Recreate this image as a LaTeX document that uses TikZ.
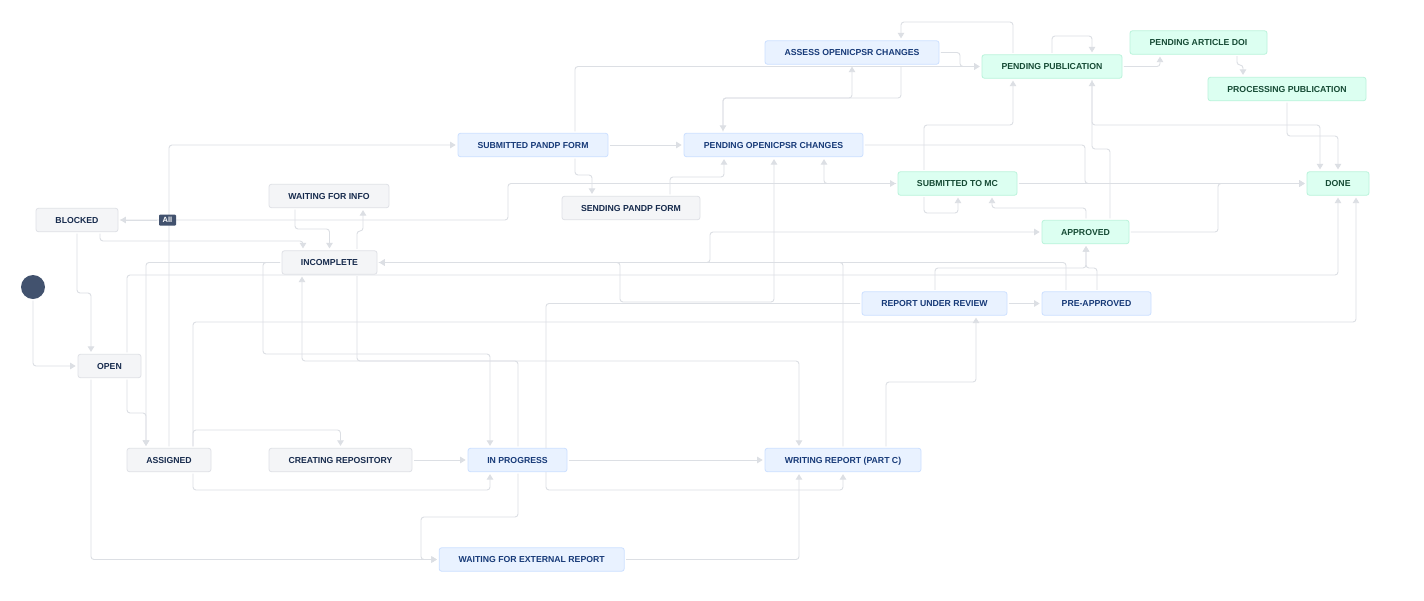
\documentclass[tikz,border=0pt]{standalone}
\usepackage{fontspec}
\setmainfont{Liberation Sans}
\usetikzlibrary{arrows.meta,backgrounds}
\definecolor{cgf}{HTML}{F4F5F7}
\definecolor{cgd}{HTML}{DFE1E6}
\definecolor{cgt}{HTML}{172B4D}
\definecolor{cbf}{HTML}{E9F2FF}
\definecolor{cbd}{HTML}{CCE0FF}
\definecolor{cbt}{HTML}{173A78}
\definecolor{cnf}{HTML}{DCFFF1}
\definecolor{cnd}{HTML}{BAF3DB}
\definecolor{cnt}{HTML}{164B35}
\definecolor{ce}{HTML}{DCDFE4}
\definecolor{cdark}{HTML}{42526E}
\tikzset{
  st/.style={rectangle, rounded corners=2.5pt, line width=0.8pt, inner sep=0pt,
    minimum height=23.5pt, text height=6.3pt, text depth=0pt,
    font=\bfseries\fontsize{8.7}{10}\selectfont},
  gst/.style={st, fill=cgf, draw=cgd, text=cgt},
  bst/.style={st, fill=cbf, draw=cbd, text=cbt},
  nst/.style={st, fill=cnf, draw=cnd, text=cnt},
  edge/.style={draw=ce, line width=0.9pt, rounded corners=3pt, shorten >=2pt, shorten <=1.5pt,
    -{Triangle[length=5.5pt,width=6.5pt]}}
}
\begin{document}
\begin{tikzpicture}[x=1pt,y=-1pt]
\useasboundingbox (0,0) rectangle (1424,600);

% nodes
\node[gst, minimum width=82pt] (blocked) at (77,220) {BLOCKED};
\node[gst, minimum width=120pt] (wfi) at (329,196) {WAITING FOR INFO};
\node[gst, minimum width=95pt] (incomplete) at (329.5,262.5) {INCOMPLETE};
\node[gst, minimum width=63pt] (open) at (109.5,366) {OPEN};
\node[gst, minimum width=84pt] (assigned) at (169,460) {ASSIGNED};
\node[gst, minimum width=143pt] (createrepo) at (340.5,460) {CREATING REPOSITORY};
\node[bst, minimum width=99pt] (inprog) at (517.5,460) {IN PROGRESS};
\node[bst, minimum width=185pt] (wext) at (531.7,559.5) {WAITING FOR EXTERNAL REPORT};
\node[bst, minimum width=156pt] (writing) at (843,460) {WRITING REPORT (PART C)};
\node[bst, minimum width=145pt] (rur) at (934.5,303.5) {REPORT UNDER REVIEW};
\node[bst, minimum width=109pt] (preapp) at (1096.5,303.5) {PRE-APPROVED};
\node[nst, minimum width=87pt] (approved) at (1085.5,232) {APPROVED};
\node[nst, minimum width=119pt] (submc) at (957.5,183.5) {SUBMITTED TO MC};
\node[nst, minimum width=62pt] (done) at (1338,183.5) {DONE};
\node[bst, minimum width=150pt] (subpandp) at (533,145) {SUBMITTED PANDP FORM};
\node[bst, minimum width=179pt] (pendopen) at (773.5,145) {PENDING OPENICPSR CHANGES};
\node[gst, minimum width=138pt] (sending) at (631,208) {SENDING PANDP FORM};
\node[bst, minimum width=174pt] (assess) at (852,52.5) {ASSESS OPENICPSR CHANGES};
\node[nst, minimum width=140pt] (pendpub) at (1052,66.5) {PENDING PUBLICATION};
\node[nst, minimum width=137pt] (doi) at (1198.5,42.5) {PENDING ARTICLE DOI};
\node[nst, minimum width=158pt] (procpub) at (1287,89) {PROCESSING PUBLICATION};
\node[circle, fill=cdark, minimum size=24pt, inner sep=0pt] (start) at (33,287) {};
\node[fill=cdark, text=white, rounded corners=1pt, inner sep=0pt, minimum width=17pt,
  minimum height=11pt, text height=5.6pt, text depth=0pt,
  font=\bfseries\fontsize{7.5}{8}\selectfont] (all) at (167.5,220) {All};

\begin{pgfonlayer}{background}
\fill[white] (0,0) rectangle (1424,600);
% start
\draw[edge] (start.south) |- (open.west);
% global
\draw[edge] (all.west) -- (blocked.east);
\draw[edge] (blocked.east) -- (508,0 |- blocked.east) -- (508,0 |- submc.west) -- (submc.west);
% blocked
\draw[edge] (100,0 |- blocked.south) -- (100,241) -- (303,241) -- (303,0 |- incomplete.north);
\draw[edge] (blocked.south) -- (77,293) -- (91,293) -- (91,0 |- open.north);
% waiting for info / incomplete
\draw[edge] (295,0 |- wfi.south) -- (295,229) -- (329.5,229) -- (incomplete.north);
\draw[edge] (357,0 |- incomplete.north) -- (357,231) -- (363,231) -- (363,0 |- wfi.south);
\draw[edge] (incomplete.west) -- (146,0 |- incomplete.west) -- (146,0 |- assigned.north);
\draw[edge] (incomplete.west) -- (263,0 |- incomplete.west) -- (263,354) -- (490,354) -- (490,0 |- inprog.north);
\draw[edge] (357,0 |- incomplete.south) -- (357,361) -- (799,361) -- (799,0 |- writing.north);
\draw[edge] (incomplete.east) -- (710,0 |- incomplete.east) -- (710,0 |- approved.west) -- (approved.west);
\draw[edge] (incomplete.east) -- (620,0 |- incomplete.east) -- (620,302) -- (774,302) -- (774,0 |- pendopen.south);
% open
\draw[edge] (127,0 |- open.north) -- (127,275) -- (1338,275) -- (done.south);
\draw[edge] (127,0 |- open.south) -- (127,413) -- (146,413) -- (146,0 |- assigned.north);
\draw[edge] (91,0 |- open.south) -- (91,0 |- wext.west) -- (wext.west);
% assigned
\draw[edge] (assigned.north) |- (subpandp.west);
\draw[edge] (193,0 |- assigned.north) -- (193,430) -- (340.5,430) -- (createrepo.north);
\draw[edge] (193,0 |- assigned.north) -- (193,322) -- (1356,322) -- (1356,0 |- done.south);
\draw[edge] (193,0 |- assigned.south) -- (193,490) -- (490,490) -- (490,0 |- inprog.south);
\draw[edge] (createrepo.east) -- (inprog.west);
% in progress
\draw[edge] (518,0 |- inprog.north) -- (518,361) -- (302,361) -- (302,0 |- incomplete.south);
\draw[edge] (518,0 |- inprog.south) -- (518,517) -- (421,517) -- (421,0 |- wext.west) -- (wext.west);
\draw[edge] (inprog.east) -- (writing.west);
\draw[edge] (wext.east) -- (799,0 |- wext.east) -- (799,0 |- writing.south);
% writing
\draw[edge] (843,0 |- writing.north) -- (843,0 |- incomplete.east) -- (incomplete.east);
\draw[edge] (886,0 |- writing.north) -- (886,382) -- (976,382) -- (976,0 |- rur.south);
% report under review
\draw[edge] (rur.west) -- (546,0 |- rur.west) -- (546,490) -- (843,490) -- (843,0 |- writing.south);
\draw[edge] (rur.east) -- (preapp.west);
\draw[edge] (935,0 |- rur.north) -- (935,268) -- (1086,268) -- (1086,0 |- approved.south);
\draw[edge] (1097,0 |- preapp.north) -- (1097,268) -- (1086,268) -- (1086,0 |- approved.south);
\draw[edge] (1066,0 |- preapp.north) -- (1066,0 |- incomplete.east) -- (incomplete.east);
% approved
\draw[edge] (1086,0 |- approved.north) -- (1086,208) -- (992,208) -- (992,0 |- submc.south);
\draw[edge] (approved.east) -- (1218,0 |- approved.east) -- (1218,0 |- done.west) -- (done.west);
\draw[edge] (1110,0 |- approved.north) -- (1110,149) -- (1092,149) -- (1092,0 |- pendpub.south);
% submitted to mc
\draw[edge] (924,0 |- submc.south) -- (924,213) -- (958,213) -- (958,0 |- submc.south);
\draw[edge] (924,0 |- submc.north) -- (924,125) -- (1013,125) -- (1013,0 |- pendpub.south);
\draw[edge] (submc.east) -- (done.west);
\draw[edge] (submc.west) -- (824,0 |- submc.west) -- (824,0 |- pendopen.south);
% publication
\draw[edge] (1092,0 |- pendpub.south) -- (1092,125) -- (1320,125) -- (1320,0 |- done.north);
\draw[edge] (1287,0 |- procpub.south) -- (1287,136) -- (1338,136) -- (done.north);
\draw[edge] (1237,0 |- doi.south) -- (1237,65) -- (1243,65) -- (1243,0 |- procpub.north);
\draw[edge] (pendpub.east) -- (1160,0 |- pendpub.east) -- (1160,0 |- doi.south);
\draw[edge] (1052,0 |- pendpub.north) -- (1052,36) -- (1092,36) -- (1092,0 |- pendpub.north);
\draw[edge] (1013,0 |- pendpub.north) -- (1013,22) -- (901,22) -- (901,0 |- assess.north);
\draw[edge] (assess.east) -- (960,0 |- assess.east) -- (960,0 |- pendpub.west) -- (pendpub.west);
% pandp / openicpsr
\draw[edge] (575,0 |- subpandp.north) -- (575,0 |- pendpub.west) -- (pendpub.west);
\draw[edge] (subpandp.east) -- (pendopen.west);
\draw[edge] (575,0 |- subpandp.south) -- (575,175) -- (592,175) -- (592,0 |- sending.north);
\draw[edge] (670,0 |- sending.north) -- (670,177) -- (724,177) -- (724,0 |- pendopen.south);
\draw[edge] (901,0 |- assess.south) -- (901,98) -- (723,98) -- (723,0 |- pendopen.north);
\draw[edge] (723,0 |- pendopen.north) -- (723,98) -- (852,98) -- (assess.south);
\draw[edge] (pendopen.east) -- (1085,0 |- pendopen.east) -- (1085,0 |- done.west) -- (done.west);
\end{pgfonlayer}
\end{tikzpicture}
\end{document}
